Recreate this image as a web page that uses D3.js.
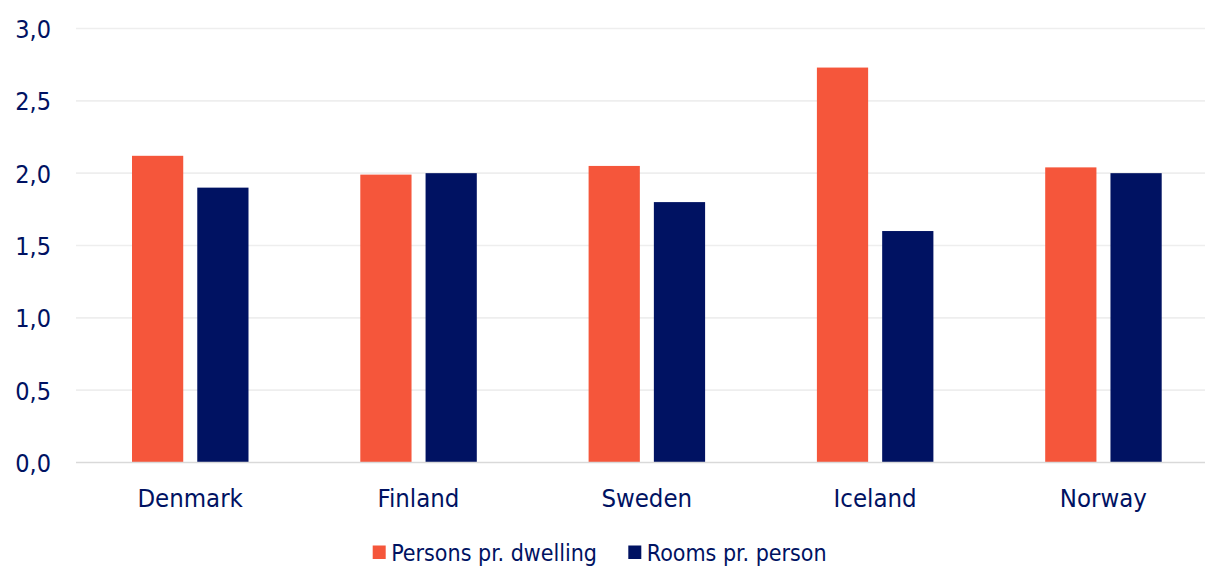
<!DOCTYPE html>
<html>
<head>
<meta charset="utf-8">
<script src="https://cdn.jsdelivr.net/npm/d3@7"></script>
<style>
  html, body { margin: 0; padding: 0; background: #ffffff; }
  svg { display: block; }
  text { font-family: "DejaVu Sans Condensed", "DejaVu Sans", sans-serif; fill: #001262; }
</style>
</head>
<body>
<svg id="chart" width="1205" height="567"></svg>
<script>
// Nordic housing indicators
const countries = ["Denmark", "Finland", "Sweden", "Iceland", "Norway"];
const seriesNames = ["Persons pr. dwelling", "Rooms pr. person"];
const personsPerDwelling = [2.12, 1.99, 2.05, 2.73, 2.04];
const roomsPerPerson = [1.90, 2.00, 1.80, 1.60, 2.00];
const yTicks = [0, 0.5, 1.0, 1.5, 2.0, 2.5, 3.0];
const colors = ["#F5563B", "#001262"];

const seriesValues = [personsPerDwelling, roomsPerPerson];

const svg = d3.select("#chart");
const plotLeft = 76, plotRight = 1217.5, plotTop = 28.5, plotBottom = 462.5;

const x = d3.scaleBand().domain(countries).range([plotLeft, plotRight]).paddingInner(0).paddingOuter(0);
const xSeries = d3.scaleBand().domain(seriesNames).range([56, 172.5]).paddingInner(0.215);
const y = d3.scaleLinear().domain([0, 3]).range([plotBottom, plotTop]);

// horizontal gridlines
svg.append("g")
  .selectAll("line")
  .data(yTicks.filter(d => d > 0))
  .join("line")
  .attr("x1", plotLeft).attr("x2", 1205)
  .attr("y1", d => y(d)).attr("y2", d => y(d))
  .attr("stroke", "#eeeeee").attr("stroke-width", 1.6);

// y axis labels
const yAxis = d3.axisLeft(y).tickValues(yTicks)
  .tickFormat(d => d3.format(".1f")(d).replace(".", ","))
  .tickSize(0).tickPadding(0);
svg.append("g")
  .attr("transform", `translate(51,0)`)
  .call(yAxis)
  .call(g => g.select(".domain").remove())
  .call(g => g.selectAll("text")
    .attr("font-size", 25)
    .attr("dy", "0.36em")
    .style("font-family", "\"DejaVu Sans Condensed\", \"DejaVu Sans\", sans-serif")
    .attr("fill", "#001262"));

// bars
const groups = svg.append("g")
  .selectAll("g")
  .data(countries)
  .join("g")
  .attr("transform", d => `translate(${x(d)},0)`);

groups.selectAll("rect")
  .data((c, i) => seriesNames.map((s, k) => ({ s, k, v: seriesValues[k][i] })))
  .join("rect")
  .attr("x", d => xSeries(d.s))
  .attr("width", xSeries.bandwidth())
  .attr("y", d => y(d.v))
  .attr("height", d => y(0) - y(d.v))
  .attr("fill", d => colors[d.k]);

// baseline
svg.append("line")
  .attr("x1", plotLeft).attr("x2", 1205)
  .attr("y1", y(0)).attr("y2", y(0))
  .attr("stroke", "#d9d9d9").attr("stroke-width", 1.6);

// x axis labels
const xAxis = d3.axisBottom(x).tickSize(0).tickPadding(0);
svg.append("g")
  .attr("transform", `translate(0,${y(0)})`)
  .call(xAxis)
  .call(g => g.select(".domain").remove())
  .call(g => g.selectAll("text")
    .attr("font-size", 25.5)
    .attr("y", 44)
    .attr("dy", 0)
    .style("font-family", "\"DejaVu Sans Condensed\", \"DejaVu Sans\", sans-serif")
    .attr("fill", "#001262"));

// legend
const legendItems = [
  { name: seriesNames[0], color: colors[0], x: 372.7 },
  { name: seriesNames[1], color: colors[1], x: 628.3 }
];
const legend = svg.append("g");
legend.selectAll("rect")
  .data(legendItems)
  .join("rect")
  .attr("x", d => d.x).attr("y", 545.5)
  .attr("width", 13).attr("height", 13.5)
  .attr("fill", d => d.color);
legend.selectAll("text")
  .data(legendItems)
  .join("text")
  .attr("x", d => d.x + 18.5).attr("y", 561)
  .attr("font-size", 23)
  .text(d => d.name);
</script>
</body>
</html>
